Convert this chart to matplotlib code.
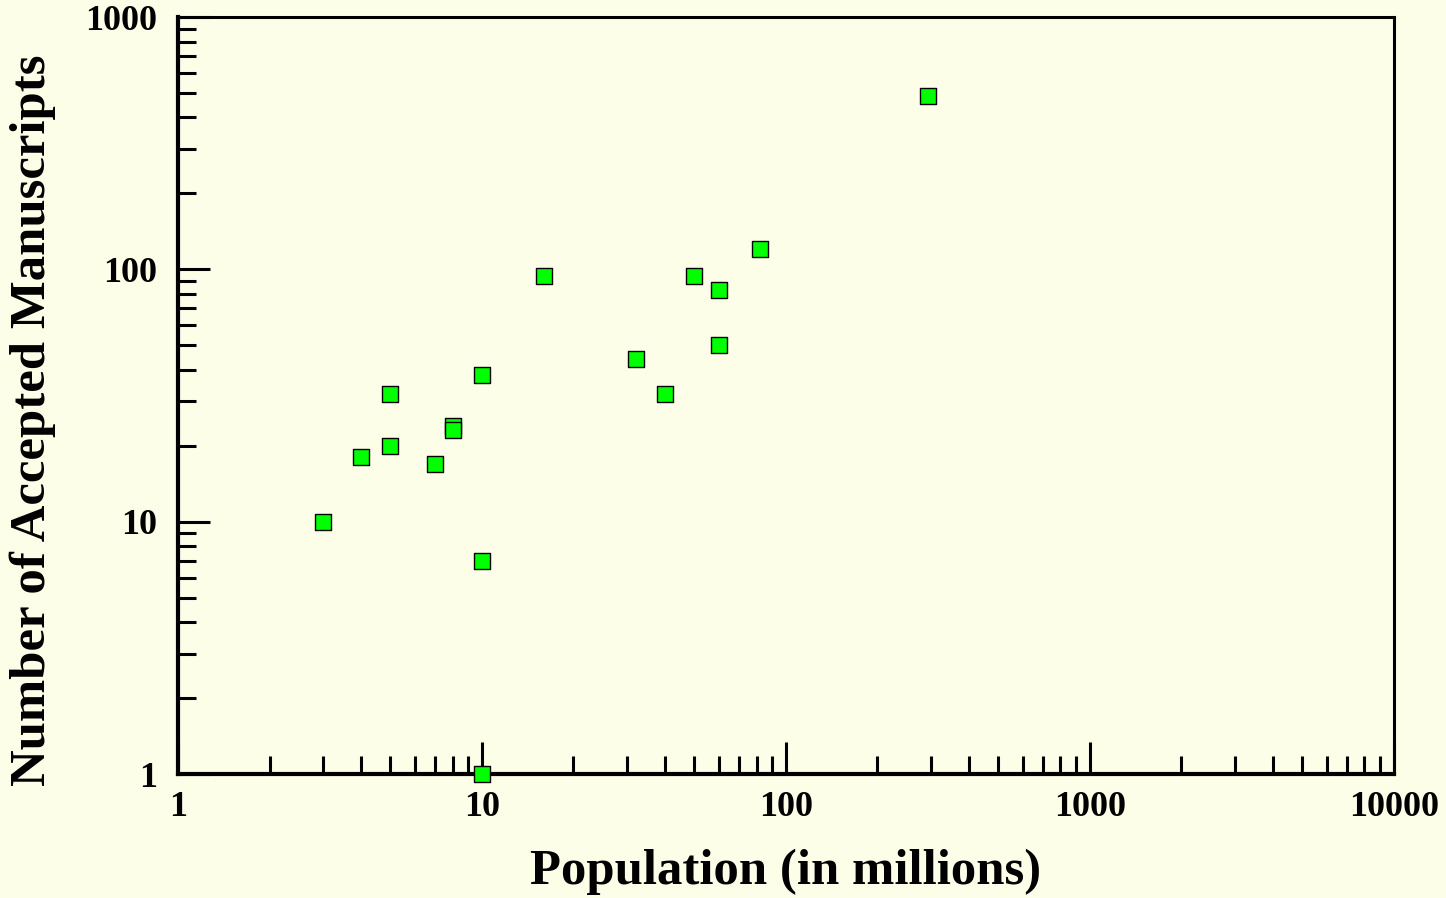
import matplotlib
matplotlib.use('Agg')
import matplotlib.pyplot as plt
from matplotlib.ticker import LogLocator, FixedLocator, FixedFormatter, NullFormatter

# population (millions) vs accepted manuscripts
population = [3, 4, 5, 5, 7, 8, 8, 10, 10, 10, 16, 32, 40, 50, 60, 60, 82, 293]
manuscripts = [10, 18, 32, 20, 17, 24, 23, 38, 7, 1, 94, 44, 32, 94, 83, 50, 121, 486]

x_ticks = [1, 10, 100, 1000, 10000]
x_labels = ['1', '10', '100', '1000', '10000']
y_ticks = [1, 10, 100, 1000]
y_labels = ['1', '10', '100', '1000']

bg = '#FDFEE8'
plt.rcParams['font.family'] = ['Liberation Serif', 'DejaVu Serif']
plt.rcParams['font.weight'] = 'bold'

fig = plt.figure(figsize=(14.46, 8.98), dpi=100, facecolor=bg)
ax = fig.add_axes([0.1231, 0.138, 0.8409, 0.843], facecolor=bg)

ax.scatter(population, manuscripts, marker='s', s=11.8 ** 2, c='#00FF00',
           edgecolors='black', linewidths=1.0, zorder=5, clip_on=False)

ax.set_xscale('log')
ax.set_yscale('log')
ax.set_xlim(1, 10000)
ax.set_ylim(1, 1000)

ax.xaxis.set_major_locator(FixedLocator(x_ticks))
ax.xaxis.set_major_formatter(FixedFormatter(x_labels))
ax.yaxis.set_major_locator(FixedLocator(y_ticks))
ax.yaxis.set_major_formatter(FixedFormatter(y_labels))
ax.xaxis.set_minor_locator(LogLocator(base=10, subs=range(2, 10), numticks=20))
ax.yaxis.set_minor_locator(LogLocator(base=10, subs=range(2, 10), numticks=20))
ax.xaxis.set_minor_formatter(NullFormatter())
ax.yaxis.set_minor_formatter(NullFormatter())

ax.tick_params(which='both', direction='in', top=False, right=False, colors='black')
ax.tick_params(which='major', length=23, width=2.2, labelsize=26)
ax.tick_params(axis='x', which='major', pad=12)
ax.tick_params(axis='y', which='major', pad=15)
ax.tick_params(which='minor', length=13, width=2.2)

for side in ['left', 'bottom']:
    ax.spines[side].set_linewidth(3.0)
for side in ['top', 'right']:
    ax.spines[side].set_linewidth(2.2)

for lbl in ax.get_xticklabels() + ax.get_yticklabels():
    lbl.set_fontweight('bold')

ax.set_xlabel('Population (in millions)', fontsize=36.5, fontweight='bold', labelpad=18)
ax.set_ylabel('Number of Accepted Manuscripts', fontsize=36.5, fontweight='bold')
ax.yaxis.set_label_coords(-0.1, 0.468)

fig.savefig('out.png', dpi=100, facecolor=bg)
plt.close(fig)
